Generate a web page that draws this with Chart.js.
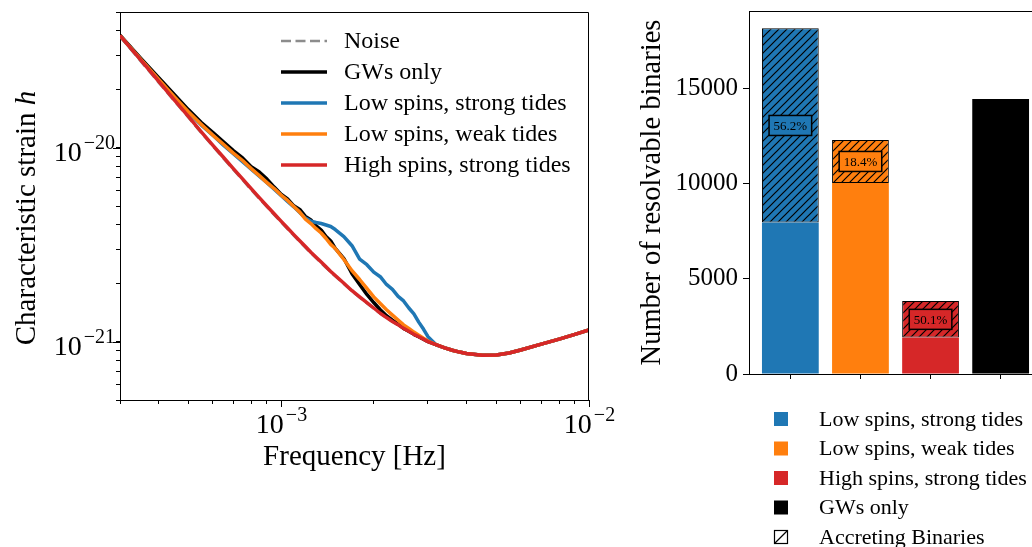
<!DOCTYPE html>
<html>
<head>
<meta charset="utf-8">
<script src="https://cdn.jsdelivr.net/npm/chart.js@4/dist/chart.umd.min.js"></script>
<style>
  html, body { margin: 0; padding: 0; background: #fff; width: 1032px; height: 547px; overflow: hidden; }
  #strain { position: absolute; left: 0; top: 0; }
  #counts { position: absolute; left: 600px; top: 0; }
</style>
</head>
<body>
<canvas id="strain" width="620" height="547"></canvas>
<canvas id="counts" width="450" height="547"></canvas>
<script>
// ---- left panel: characteristic strain vs frequency ----
const freq = [3.0e-4, 3.5e-4, 4.0e-4, 4.5e-4, 5.0e-4, 5.5e-4, 6.0e-4, 6.5e-4, 7.0e-4, 7.5e-4,
  8.0e-4, 8.5e-4, 9.0e-4, 9.5e-4, 1.0e-3, 1.05e-3, 1.1e-3, 1.15e-3, 1.2e-3, 1.25e-3,
  1.3e-3, 1.35e-3, 1.4e-3, 1.45e-3, 1.5e-3, 1.6e-3, 1.7e-3, 1.8e-3, 1.9e-3, 2.0e-3,
  2.1e-3, 2.2e-3, 2.3e-3, 2.4e-3, 2.5e-3, 2.6e-3, 2.7e-3, 2.8e-3, 2.9e-3, 3.0e-3,
  3.2e-3, 3.4e-3, 3.6e-3, 3.8e-3, 4.0e-3, 4.5e-3, 5.0e-3, 5.5e-3, 6.0e-3, 7.0e-3,
  8.0e-3, 9.0e-3, 1.0e-2];

const noise = [3.74e-20, 2.79e-20, 2.17e-20, 1.74e-20, 1.43e-20, 1.195e-20, 1.017e-20, 8.80e-21, 7.70e-21, 6.81e-21,
  6.06e-21, 5.45e-21, 4.94e-21, 4.50e-21, 4.13e-21, 3.80e-21, 3.52e-21, 3.27e-21, 3.05e-21, 2.86e-21,
  2.69e-21, 2.54e-21, 2.40e-21, 2.28e-21, 2.17e-21, 1.98e-21, 1.82e-21, 1.685e-21, 1.575e-21, 1.48e-21,
  1.395e-21, 1.325e-21, 1.265e-21, 1.212e-21, 1.165e-21, 1.124e-21, 1.087e-21, 1.055e-21, 1.027e-21, 1.001e-21,
  9.61e-22, 9.27e-22, 9.01e-22, 8.82e-22, 8.67e-22, 8.51e-22, 8.52e-22, 8.74e-22, 9.05e-22, 9.70e-22,
  1.03e-21, 1.09e-21, 1.15e-21];

const gwsOnly = [3.80e-20, 2.89e-20, 2.30e-20, 1.88e-20, 1.57e-20, 1.35e-20, 1.20e-20, 1.07e-20, 9.65e-21, 8.85e-21,
  7.98e-21, 7.48e-21, 6.88e-21, 6.26e-21, 5.75e-21, 5.44e-21, 5.01e-21, 4.80e-21, 4.42e-21, 4.24e-21,
  3.95e-21, 3.76e-21, 3.48e-21, 3.30e-21, 3.02e-21, 2.68e-21, 2.24e-21, 1.97e-21, 1.75e-21, 1.59e-21,
  1.46e-21, 1.36e-21, 1.29e-21, 1.23e-21, 1.17e-21, 1.13e-21, 1.09e-21, 1.06e-21, 1.03e-21, 1.00e-21,
  9.62e-22, 9.28e-22, 9.02e-22, 8.83e-22, 8.68e-22, 8.51e-22, 8.52e-22, 8.74e-22, 9.05e-22, 9.70e-22,
  1.03e-21, 1.09e-21, 1.15e-21];

const lowSpinStrongTides = [3.77e-20, 2.85e-20, 2.24e-20, 1.82e-20, 1.52e-20, 1.31e-20, 1.16e-20, 1.03e-20, 9.30e-21, 8.46e-21,
  7.74e-21, 7.12e-21, 6.60e-21, 6.11e-21, 5.66e-21, 5.28e-21, 4.95e-21, 4.63e-21, 4.33e-21, 4.18e-21,
  4.11e-21, 4.06e-21, 3.99e-21, 3.92e-21, 3.78e-21, 3.48e-21, 3.12e-21, 2.66e-21, 2.49e-21, 2.28e-21,
  2.16e-21, 1.97e-21, 1.86e-21, 1.71e-21, 1.62e-21, 1.49e-21, 1.39e-21, 1.26e-21, 1.16e-21, 1.06e-21,
  9.59e-22, 9.28e-22, 9.02e-22, 8.83e-22, 8.68e-22, 8.51e-22, 8.52e-22, 8.74e-22, 9.05e-22, 9.70e-22,
  1.03e-21, 1.09e-21, 1.15e-21];

const lowSpinWeakTides = [3.78e-20, 2.86e-20, 2.25e-20, 1.83e-20, 1.53e-20, 1.32e-20, 1.16e-20, 1.04e-20, 9.37e-21, 8.58e-21,
  7.79e-21, 7.17e-21, 6.60e-21, 6.15e-21, 5.69e-21, 5.34e-21, 4.97e-21, 4.65e-21, 4.28e-21, 4.06e-21,
  3.82e-21, 3.63e-21, 3.40e-21, 3.17e-21, 3.02e-21, 2.65e-21, 2.32e-21, 2.09e-21, 1.88e-21, 1.70e-21,
  1.57e-21, 1.46e-21, 1.37e-21, 1.29e-21, 1.22e-21, 1.17e-21, 1.12e-21, 1.08e-21, 1.04e-21, 1.005e-21,
  9.62e-22, 9.28e-22, 9.02e-22, 8.83e-22, 8.68e-22, 8.51e-22, 8.52e-22, 8.74e-22, 9.05e-22, 9.70e-22,
  1.03e-21, 1.09e-21, 1.15e-21];

const highSpinStrongTides = [3.78e-20, 2.83e-20, 2.20e-20, 1.76e-20, 1.45e-20, 1.21e-20, 1.03e-20, 8.92e-21, 7.80e-21, 6.90e-21,
  6.14e-21, 5.52e-21, 5.00e-21, 4.56e-21, 4.18e-21, 3.85e-21, 3.56e-21, 3.31e-21, 3.09e-21, 2.89e-21,
  2.72e-21, 2.57e-21, 2.43e-21, 2.30e-21, 2.19e-21, 2.00e-21, 1.83e-21, 1.70e-21, 1.59e-21, 1.49e-21,
  1.40e-21, 1.33e-21, 1.27e-21, 1.22e-21, 1.17e-21, 1.13e-21, 1.09e-21, 1.06e-21, 1.03e-21, 1.00e-21,
  9.62e-22, 9.28e-22, 9.02e-22, 8.83e-22, 8.68e-22, 8.51e-22, 8.52e-22, 8.74e-22, 9.05e-22, 9.70e-22,
  1.03e-21, 1.09e-21, 1.15e-21];

const freqTicks = [3e-4, 4e-4, 5e-4, 6e-4, 7e-4, 8e-4, 9e-4, 1e-3, 2e-3, 3e-3, 4e-3, 5e-3, 6e-3, 7e-3, 8e-3, 9e-3, 1e-2];
const strainTicks = [5e-22, 6e-22, 7e-22, 8e-22, 9e-22, 1e-21, 2e-21, 3e-21, 4e-21, 5e-21, 6e-21, 7e-21, 8e-21, 9e-21,
  1e-20, 2e-20, 3e-20, 4e-20, 5e-20];
const freqDecades = [-3, -2];
const strainDecades = [-21, -20];

// ---- right panel: resolvable binaries ----
const models = ['Low spins, strong tides', 'Low spins, weak tides', 'High spins, strong tides', 'GWs only'];
const nonAccreting = [7950, 10030, 1910, 14440];
const accreting = [10200, 2260, 1920, 0];
const accretingShare = ['56.2%', '18.4%', '50.1%', null];
const countTicks = [0, 5000, 10000, 15000];

const modelColors = ['#1f77b4', '#ff7f0e', '#d62728', '#000000'];
const FONT = '"Liberation Serif", "DejaVu Serif", serif';
Chart.defaults.font.family = FONT;
Chart.defaults.color = '#000';

function points(values) {
  return freq.map((f, i) => ({ x: f, y: values[i] }));
}

// 10 with a raised exponent, like matplotlib's log labels
function drawPower(ctx, exp, x, y, align) {
  const sup = '\u2212' + Math.abs(exp);
  ctx.font = '28px ' + FONT;
  const wb = ctx.measureText('10').width;
  ctx.font = '20px ' + FONT;
  const ws = ctx.measureText(sup).width + 2;
  const x0 = align === 'center' ? x - (wb + ws) / 2 : x - wb - ws;
  ctx.textAlign = 'left';
  ctx.textBaseline = 'alphabetic';
  ctx.font = '28px ' + FONT;
  ctx.fillText('10', x0, y);
  ctx.font = '20px ' + FONT;
  ctx.fillText(sup, x0 + wb + 2, y - 12);
}

const strainDecor = {
  id: 'strainDecor',
  afterDraw(chart) {
    const { ctx, chartArea: a, scales: { x, y } } = chart;
    ctx.save();
    ctx.strokeStyle = '#000';
    ctx.fillStyle = '#000';
    ctx.lineWidth = 1;
    ctx.beginPath();
    ctx.moveTo(a.left, a.top + 0.5);
    ctx.lineTo(a.right - 0.5, a.top + 0.5);
    ctx.lineTo(a.right - 0.5, a.bottom);
    ctx.stroke();

    freqDecades.forEach(e => {
      const px = Math.round(x.getPixelForValue(Math.pow(10, e))) + 0.5;
      ctx.beginPath(); ctx.moveTo(px, a.bottom); ctx.lineTo(px, a.bottom + 7); ctx.stroke();
      drawPower(ctx, e, px, a.bottom + 33, 'center');
    });
    strainDecades.forEach(e => {
      const py = Math.round(y.getPixelForValue(Math.pow(10, e))) + 0.5;
      ctx.beginPath(); ctx.moveTo(a.left - 7, py); ctx.lineTo(a.left, py); ctx.stroke();
      drawPower(ctx, e, a.left - 5, py + 12, 'right');
    });

    // y title with an italic h
    ctx.save();
    ctx.translate(27, (a.top + a.bottom) / 2 + 12);
    ctx.rotate(-Math.PI / 2);
    const t1 = 'Characteristic strain ';
    ctx.font = '29px ' + FONT;
    const w1 = ctx.measureText(t1).width;
    ctx.font = 'italic 29px ' + FONT;
    const w2 = ctx.measureText('h').width;
    ctx.textBaseline = 'middle';
    ctx.textAlign = 'left';
    ctx.font = '29px ' + FONT;
    ctx.fillText(t1, -(w1 + w2) / 2, 0);
    ctx.font = 'italic 29px ' + FONT;
    ctx.fillText('h', -(w1 + w2) / 2 + w1, 0);
    ctx.restore();

    // legend
    chart.data.datasets.forEach((ds, i) => {
      const cy = a.top + 29 + i * 31;
      ctx.strokeStyle = ds.borderColor;
      ctx.lineWidth = ds.borderWidth;
      ctx.setLineDash(ds.borderDash || []);
      ctx.beginPath(); ctx.moveTo(281, cy); ctx.lineTo(327, cy); ctx.stroke();
      ctx.setLineDash([]);
      ctx.font = '24px ' + FONT;
      ctx.textBaseline = 'middle';
      ctx.textAlign = 'left';
      ctx.fillText(ds.label, 344, cy + 1);
    });
    ctx.restore();
  }
};

new Chart(document.getElementById('strain'), {
  type: 'line',
  data: {
    datasets: [
      { label: 'Noise', data: points(noise), borderColor: '#8c8c8c', borderWidth: 2.5, borderDash: [10, 4.5], order: 4 },
      { label: 'GWs only', data: points(gwsOnly), borderColor: '#000000', borderWidth: 3.5, order: 3 },
      { label: 'Low spins, strong tides', data: points(lowSpinStrongTides), borderColor: modelColors[0], borderWidth: 3.5, order: 2 },
      { label: 'Low spins, weak tides', data: points(lowSpinWeakTides), borderColor: modelColors[1], borderWidth: 3.5, order: 1 },
      { label: 'High spins, strong tides', data: points(highSpinStrongTides), borderColor: modelColors[2], borderWidth: 3.5, order: 0 }
    ]
  },
  options: {
    responsive: false,
    animation: false,
    layout: { padding: { left: 0, top: 12, right: 31, bottom: 0 } },
    plugins: { legend: { display: false }, tooltip: { enabled: false } },
    elements: { point: { radius: 0 }, line: { tension: 0, borderJoinStyle: 'round', fill: false } },
    scales: {
      x: {
        type: 'logarithmic', min: 3e-4, max: 1e-2,
        afterBuildTicks: s => { s.ticks = freqTicks.map(v => ({ value: v })); },
        afterFit: s => { s.height = 147; },
        ticks: { display: false, autoSkip: false },
        grid: { drawOnChartArea: false, tickLength: 4, color: '#000' },
        border: { color: '#000', width: 1 },
        title: { display: true, text: 'Frequency [Hz]', font: { size: 29 }, padding: { top: 0, bottom: 72 } }
      },
      y: {
        type: 'logarithmic', min: 5e-22, max: 5e-20,
        afterBuildTicks: s => { s.ticks = strainTicks.map(v => ({ value: v })); },
        afterFit: s => { s.width = 120; },
        ticks: { display: false, autoSkip: false },
        grid: { drawOnChartArea: false, tickLength: 4, color: '#000' },
        border: { color: '#000', width: 1 }
      }
    }
  },
  plugins: [strainDecor]
});

// ---- bar chart ----
const countsCanvas = document.getElementById('counts');

function hatch(color) {
  const tile = document.createElement('canvas');
  tile.width = 8; tile.height = 8;
  const g = tile.getContext('2d');
  g.fillStyle = color;
  g.fillRect(0, 0, 8, 8);
  g.strokeStyle = '#000';
  g.lineWidth = 1.2;
  g.beginPath();
  g.moveTo(0, 8); g.lineTo(8, 0);
  g.moveTo(-1, 1); g.lineTo(1, -1);
  g.moveTo(7, 9); g.lineTo(9, 7);
  g.stroke();
  return countsCanvas.getContext('2d').createPattern(tile, 'repeat');
}

const countsDecor = {
  id: 'countsDecor',
  afterDatasetsDraw(chart) {
    const { ctx } = chart;
    const bars = chart.getDatasetMeta(1).data;
    ctx.save();
    bars.forEach((bar, i) => {
      const text = accretingShare[i];
      if (!text) return;
      const cy = (bar.y + bar.base) / 2;
      ctx.font = '13px ' + FONT;
      const w = ctx.measureText(text).width + 9;
      const h = 20;
      ctx.fillStyle = modelColors[i];
      ctx.fillRect(bar.x - w / 2, cy - h / 2, w, h);
      ctx.strokeStyle = '#000';
      ctx.lineWidth = 1.5;
      ctx.strokeRect(bar.x - w / 2, cy - h / 2, w, h);
      ctx.fillStyle = '#000';
      ctx.textAlign = 'center';
      ctx.textBaseline = 'middle';
      ctx.fillText(text, bar.x, cy + 1);
    });
    ctx.restore();
  },
  afterDraw(chart) {
    const { ctx, chartArea: a } = chart;
    ctx.save();
    ctx.strokeStyle = '#000';
    ctx.lineWidth = 1;
    ctx.beginPath();
    ctx.moveTo(a.left, a.top + 0.5);
    ctx.lineTo(a.right, a.top + 0.5);
    ctx.stroke();

    // legend below the axes
    const items = models.map((m, i) => ({ text: m, color: modelColors[i] }));
    items.push({ text: 'Accreting Binaries', color: null });
    items.forEach((it, i) => {
      const cy = 419 + i * 29.5;
      if (it.color) {
        ctx.fillStyle = it.color;
        ctx.fillRect(174, cy - 7, 14, 14);
      } else {
        ctx.fillStyle = '#fff';
        ctx.fillRect(174, cy - 7, 14, 14);
        ctx.strokeStyle = '#000';
        ctx.lineWidth = 1.2;
        ctx.strokeRect(174.5, cy - 6.5, 13, 13);
        ctx.beginPath(); ctx.moveTo(175, cy + 6); ctx.lineTo(187, cy - 6); ctx.stroke();
      }
      ctx.fillStyle = '#000';
      ctx.font = '22px ' + FONT;
      ctx.textAlign = 'left';
      ctx.textBaseline = 'middle';
      ctx.fillText(it.text, 219, cy + 1);
    });
    ctx.restore();
  }
};

new Chart(countsCanvas, {
  type: 'bar',
  data: {
    datasets: [
      {
        label: 'Non-accreting',
        data: nonAccreting.map((v, i) => ({ x: i, y: v })),
        backgroundColor: modelColors,
        borderWidth: 0
      },
      {
        label: 'Accreting Binaries',
        data: accreting.map((v, i) => ({ x: i, y: v })),
        backgroundColor: modelColors.map(c => hatch(c)),
        borderColor: '#000',
        borderWidth: 1,
        borderSkipped: false
      }
    ]
  },
  options: {
    responsive: false,
    animation: false,
    layout: { padding: { left: 0, top: 11, right: 8, bottom: 0 } },
    plugins: { legend: { display: false }, tooltip: { enabled: false } },
    datasets: { bar: { categoryPercentage: 1, barPercentage: 0.81 } },
    scales: {
      x: {
        type: 'linear', stacked: true, min: -0.59, max: 3.59, offset: false,
        afterBuildTicks: s => { s.ticks = models.map((m, i) => ({ value: i })); },
        afterFit: s => { s.height = 173; s.paddingLeft = 0; s.paddingRight = 0; },
        ticks: { display: false, autoSkip: false },
        grid: { drawOnChartArea: false, tickLength: 5, color: '#000', offset: false },
        border: { color: '#000', width: 1 }
      },
      y: {
        stacked: true, min: 0, max: 19060,
        afterBuildTicks: s => { s.ticks = countTicks.map(v => ({ value: v })); },
        afterFit: s => { s.width = 149; s.paddingTop = 0; s.paddingBottom = 0; },
        ticks: { font: { size: 25 }, padding: 5, color: '#000', callback: v => String(v) },
        grid: { drawOnChartArea: false, tickLength: 6, color: '#000' },
        border: { color: '#000', width: 1 },
        title: { display: true, text: 'Number of resolvable binaries', font: { size: 28.5 }, padding: { top: 35, bottom: 0 } }
      }
    }
  },
  plugins: [countsDecor]
});
</script>
</body>
</html>
